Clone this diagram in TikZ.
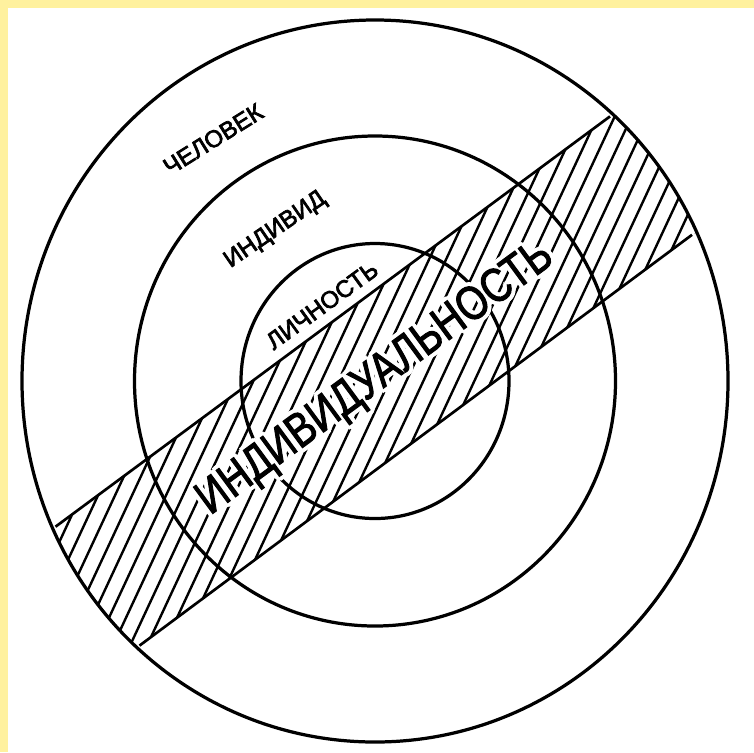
\documentclass[tikz,border=0pt]{standalone}
\usepackage{fontspec}
\setmainfont{Liberation Sans}
\newfontfamily\ringfont[FakeBold=3]{Liberation Sans}
\newfontfamily\bandfont[FakeStretch=0.82,FakeBold=2]{Liberation Sans}
\usetikzlibrary{calc}

\definecolor{pagebg}{RGB}{255,241,158}

\begin{document}
\begin{tikzpicture}[x=0.025cm,y=-0.025cm,
  ring/.style={draw,line width=2.3pt},
  bandedge/.style={line width=1.9pt},
  hatch/.style={line width=1.7pt},
  ringlabel/.style={font=\ringfont\fontsize{17}{17}\selectfont,inner sep=0pt,text height=12pt,text depth=0pt},
  biglabel/.style={font=\bandfont\fontsize{34}{34}\selectfont,inner sep=0pt,text height=24pt,text depth=0pt}]
  \fill[pagebg] (0,0) rectangle (754,752);
  \fill[white] (8,8) rectangle (754,752);
  \useasboundingbox (0,0) rectangle (754,752);
  \coordinate (centre) at (375,381);

  % hatched band
  \begin{scope}
    \clip (375,381) ellipse [x radius=353,y radius=361];
    \clip[rotate around={36.6:(375,381)}] (-45,308.6) rectangle (795,453.4);
    \foreach \x in {-350,-333,...,710}
      \draw[hatch] (\x,800) -- ({\x+373},0);
  \end{scope}

  % circles
  \draw[ring] (centre) ellipse [x radius=353,y radius=361];
  \draw[ring] (centre) ellipse [x radius=240.5,y radius=245];
  \draw[ring] (centre) ellipse [x radius=134,y radius=137.5];

  % band edges
  \coordinate (upL) at (55.5,526.7);
  \coordinate (upR) at (610,116.4);
  \coordinate (loL) at (139.5,645.6);
  \coordinate (loR) at (692,234.8);
  \draw[bandedge] (upL) -- (upR);
  \draw[bandedge] (loL) -- (loR);

  % labels
  \node[ringlabel,rotate=32] (chelovek) at (213,139) {ЧЕЛОВЕК};
  \node[ringlabel,rotate=34.5] (individ) at (274,228) {ИНДИВИД};
  \node[ringlabel,rotate=36] (lichnost) at (322,305) {ЛИЧНОСТЬ};
  \foreach \a in {0,30,...,330}
    \node[biglabel,white,rotate=36.3] (halo\a) at ($(373,375)+(\a:4)$) {ИНДИВИДУАЛЬНОСТЬ};
  \node[biglabel,rotate=36.3] (individualnost) at (373,375) {ИНДИВИДУАЛЬНОСТЬ};
\end{tikzpicture}
\end{document}
